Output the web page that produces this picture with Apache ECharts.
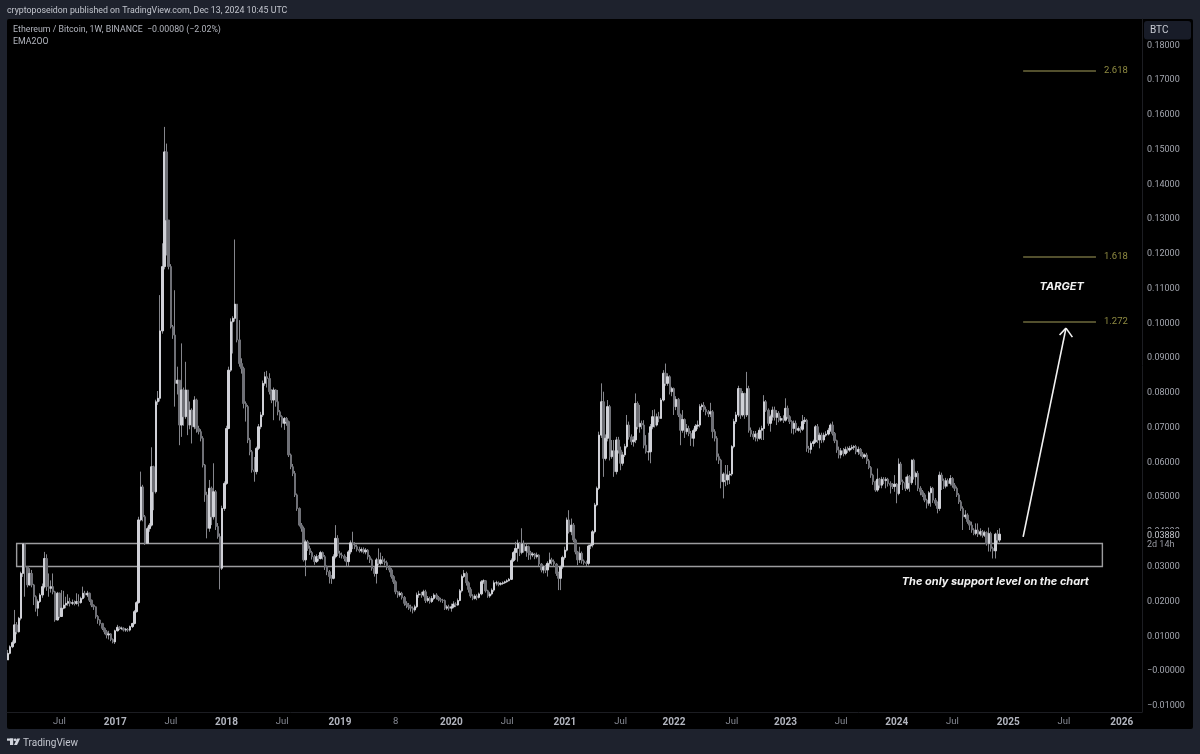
<!DOCTYPE html>
<html>
<head>
<meta charset="utf-8">
<title>ETH/BTC 1W</title>
<script src="https://cdn.jsdelivr.net/npm/echarts@6/dist/echarts.min.js"></script>
<style>
	html, body { margin: 0; padding: 0; background: #1e222d; }
	#panel { position: absolute; left: 7px; top: 19px; width: 1186px; height: 710px; background: #000; border-radius: 2px; }
	#main { position: absolute; left: 0; top: 0; width: 1200px; height: 754px; }
</style>
</head>
<body>
<div id="panel"></div>
<div id="main"></div>
<script>
// weekly candles, prices are in units of 0.0001 BTC
var firstOpen = 26;
var closes = [
	45,64,76,127,107,146,275,360,294,242,
	275,242,208,175,194,213,237,318,237,232,
	237,222,141,218,151,175,184,189,194,189,
	191,189,194,191,203,218,213,218,198,184,
	179,151,141,131,117,107,98,101,85,78,
	110,120,117,117,112,114,112,122,131,165,
	191,429,524,438,362,404,414,582,510,769,
	779,973,1158,1488,1292,1158,985,961,822,831,
	702,803,726,803,702,745,697,774,692,683,
	664,587,501,405,520,438,510,410,381,290,
	462,534,692,860,999,1009,1050,947,879,865,
	764,755,659,625,573,568,635,697,731,822,
	841,836,798,774,803,769,740,726,707,721,
	712,616,582,563,501,462,414,405,314,366,
	347,335,323,309,323,318,335,323,294,280,
	266,261,323,376,333,328,325,318,309,337,
	363,357,352,344,340,344,337,342,323,314,
	290,275,314,304,314,309,306,292,285,266,
	251,222,213,218,206,189,184,179,175,170,
	179,213,216,213,222,197,203,194,203,213,
	206,200,198,197,175,179,175,179,187,184,
	197,225,266,275,248,229,210,203,210,206,
	216,251,254,225,210,216,227,248,248,244,
	246,248,251,254,258,312,335,347,362,335,
	360,340,352,335,328,331,323,328,302,285,
	294,285,304,314,309,302,275,261,294,321,
	342,429,395,414,371,337,314,333,311,306,
	304,354,357,395,472,520,673,769,606,664,
	755,611,628,568,659,630,592,616,640,702,
	668,654,659,764,697,707,702,644,625,625,
	697,726,702,726,721,774,851,822,841,798,
	807,755,776,731,687,718,683,692,678,664,
	686,699,702,755,759,747,740,734,740,683,
	664,611,601,539,561,544,558,561,640,712,
	731,807,731,793,731,807,687,676,668,676,
	664,687,692,769,745,707,726,745,724,736,
	716,721,716,750,726,712,692,707,687,692,
	690,712,716,635,632,649,654,697,659,673,
	659,673,676,687,702,678,657,630,616,628,
	620,632,630,635,638,640,625,632,619,611,
	616,599,580,558,539,515,546,529,546,542,
	546,534,529,525,532,505,590,539,536,520,
	553,536,601,553,563,520,510,501,486,477,
	507,520,486,477,462,558,542,526,542,534,
	548,529,520,501,481,462,438,443,424,414,
	400,390,400,388,395,385,392,361,390,347,
	340,388,371,388
];
var highs = [
	55,68,82,170,135,150,280,362,362,295,
	290,285,245,212,200,218,246,337,330,275,
	255,275,225,222,220,227,225,208,215,205,
	200,197,218,215,208,237,225,225,220,200,
	186,180,155,143,133,120,112,110,103,88,
	113,127,123,122,120,118,118,125,133,170,
	195,438,568,530,443,410,420,638,585,775,
	800,1076,1225,1560,1512,1292,1165,990,1090,870,
	815,937,810,884,760,770,750,785,778,700,
	690,670,590,510,544,525,592,515,420,390,
	470,540,700,870,1009,1015,1236,1035,1004,894,
	870,770,760,665,630,610,640,705,740,830,
	855,858,851,805,810,805,803,745,730,725,
	725,715,620,590,570,505,465,420,410,372,
	371,355,340,328,330,328,340,338,328,298,
	285,270,330,414,385,340,335,330,322,342,
	370,395,365,358,352,350,350,348,345,328,
	318,295,320,347,335,325,318,312,298,290,
	270,255,225,224,222,210,195,190,185,180,
	185,220,225,222,228,228,210,208,210,218,
	218,210,205,202,200,184,185,188,195,192,
	203,230,272,285,280,252,235,215,215,215,
	220,256,258,256,228,222,232,255,254,252,
	250,252,254,258,262,318,340,366,372,365,
	405,370,362,355,340,336,334,335,330,305,
	298,300,310,335,320,315,305,280,298,326,
	352,436,457,433,420,375,340,352,338,315,
	312,358,362,400,478,525,683,822,798,675,
	774,760,659,659,668,668,640,625,648,731,
	712,675,670,793,770,760,715,716,673,680,
	705,745,747,735,740,780,860,879,851,845,
	812,810,785,780,735,745,721,705,700,685,
	692,705,715,762,764,768,755,745,766,745,
	690,670,620,605,566,587,587,570,644,720,
	740,815,798,800,795,855,815,695,685,685,
	680,695,700,788,774,750,732,755,755,745,
	742,728,730,779,758,730,716,715,715,698,
	698,731,725,720,642,655,660,702,705,680,
	680,680,684,694,707,712,682,660,640,636,
	636,640,640,642,645,644,645,640,636,624,
	620,622,604,584,562,542,577,550,553,552,
	552,550,540,535,558,535,606,596,545,553,
	560,558,603,605,568,570,526,515,506,490,
	512,526,524,492,482,568,565,548,550,548,
	558,552,535,525,506,486,468,457,448,428,
	424,405,419,419,405,400,398,396,407,395,
	352,392,400,405
];
var lows = [
	26,42,60,72,100,105,140,265,208,235,
	240,235,184,165,152,190,205,232,225,208,
	220,215,136,140,146,150,172,175,182,180,
	184,183,185,180,188,200,205,207,193,178,
	170,145,130,125,112,100,88,85,80,74,
	72,108,112,112,108,107,107,108,118,128,
	162,188,425,425,357,360,395,410,457,505,
	760,770,965,1150,1190,1150,980,950,755,790,
	644,668,700,720,673,690,649,690,680,675,
	655,580,481,376,395,414,430,400,375,229,
	285,455,530,690,855,908,1000,940,870,850,
	750,712,650,615,565,539,560,630,690,725,
	815,810,790,765,716,755,730,715,695,688,
	700,610,575,555,495,455,410,395,309,267,
	340,328,315,300,305,310,315,315,285,270,
	246,245,258,318,325,320,318,310,296,296,
	330,345,345,338,335,335,332,330,315,305,
	283,266,246,298,298,302,298,285,278,260,
	245,215,205,208,200,182,175,170,165,160,
	165,175,205,205,208,190,192,188,190,198,
	200,195,192,190,170,170,168,165,175,178,
	182,195,220,262,240,220,205,198,200,198,
	203,212,245,220,205,205,212,222,240,238,
	240,242,245,248,252,256,308,314,309,325,
	330,335,323,314,315,322,316,318,295,278,
	275,276,266,295,300,295,268,227,227,288,
	315,338,390,385,365,330,299,305,303,300,
	296,298,345,350,390,468,515,665,553,600,
	655,600,605,553,560,620,572,585,610,635,
	660,645,640,650,690,680,690,635,620,600,
	592,690,695,698,710,721,770,815,815,790,
	785,731,745,725,644,680,665,675,670,642,
	640,682,690,695,745,740,730,725,725,664,
	655,600,590,520,491,526,530,532,555,635,
	705,725,720,726,720,725,680,668,660,655,
	655,660,659,659,740,700,683,715,715,702,
	710,712,708,712,720,705,678,675,680,683,
	680,685,705,625,622,620,640,650,650,635,
	650,652,668,672,682,672,650,622,606,606,
	612,615,622,625,630,630,618,616,612,605,
	606,590,575,550,530,510,510,520,520,532,
	520,525,505,518,510,477,500,530,515,512,
	515,510,530,545,529,512,500,495,480,462,
	470,467,478,470,448,455,515,518,520,525,
	528,522,512,495,475,455,400,432,418,400,
	392,385,385,380,382,378,380,355,338,338,
	318,318,362,365
];

var weekCount = 530;
var tickWeeks = [24,50,76,102,128,155,181,207,233,260,286,311,338,363,389,415,441,467,493,520];
var tickLabels = ['Jul','2017','Jul','2018','Jul','2019','8','2020','Jul','2021','Jul','2022','Jul','2023','Jul','2024','Jul','2025','Jul','2026'];
var priceTicks = [-0.01,0,0.01,0.02,0.03,0.04,0.05,0.06,0.07,0.08,0.09,0.10,0.11,0.12,0.13,0.14,0.15,0.16,0.17,0.18];

var fibNames = ['2.618','1.618','1.272'];
var fibPrices = [0.1721,0.1186,0.0999];
var fibFrom = 474, fibTo = 508;
var zoneTop = 0.0361, zoneBottom = 0.0295, zoneFrom = 4, zoneTo = 511;

var UNIT = 0.0001;

// 周线日期
var weeks = [];
for (var i = 0; i < weekCount; i++) {
	weeks.push(new Date(Date.UTC(2016, 0, 18 + i * 7)).toISOString().slice(0, 10));
}

var wickData = [], bodyData = [];
for (var i = 0; i < closes.length; i++) {
	var o = (i == 0 ? firstOpen : closes[i - 1]) * UNIT;
	var c = closes[i] * UNIT;
	wickData.push([o, c, lows[i] * UNIT, highs[i] * UNIT]);
	bodyData.push([o, c, Math.min(o, c), Math.max(o, c)]);
}

var FONT = 'Roboto, "Liberation Sans", sans-serif';
var fibLines = fibPrices.map(function (p, k) {
	return [
		{coord: [fibFrom, p], label: {formatter: fibNames[k]}},
		{coord: [fibTo, p]}
	];
});
var white = {color: '#f2f2f2', width: 1.6, type: 'solid'};
var arrowLines = [
	[{coord: [474, 0.0380], lineStyle: white, label: {show: false}}, {coord: [494, 0.0981]}],
	[{coord: [491, 0.0961], lineStyle: white, label: {show: false}}, {coord: [494, 0.0981]}],
	[{coord: [497, 0.0955], lineStyle: white, label: {show: false}}, {coord: [494, 0.0981]}]
];

function note(text, x, y, size) {
	return {
		coord: [x, y],
		symbol: 'circle',
		symbolSize: 1,
		itemStyle: {color: 'rgba(0,0,0,0)'},
		label: {show: true, position: 'inside', formatter: text, color: '#f2f2f2', fontFamily: 'Inter', fontStyle: 'italic', fontWeight: 'bold', fontSize: size}
	};
}

var chart = echarts.init(document.getElementById('main'), null, {renderer: 'canvas'});
var option = {
	animation: false,
	backgroundColor: 'transparent',
	grid: {left: 7, right: 58, top: 19, bottom: 42, borderWidth: 0},
	xAxis: {
		type: 'category',
		data: weeks,
		axisLine: {show: true, onZero: false, lineStyle: {color: '#1c1d22'}},
		axisTick: {show: false},
		splitLine: {show: false},
		axisLabel: {
			hideOverlap: false,
			margin: 5,
			interval: function (idx) { return tickWeeks.indexOf(idx) >= 0; },
			formatter: function (val, idx) {
				var t = tickLabels[tickWeeks.indexOf(idx)];
				return t.length == 4 ? '{y|' + t + '}' : '{m|' + t + '}';
			},
			rich: {
				y: {color: '#b2b5be', fontFamily: FONT, fontSize: 10, fontWeight: 'bold'},
				m: {color: '#868993', fontFamily: FONT, fontSize: 9.5}
			}
		}
	},
	yAxis: {
		type: 'value',
		position: 'right',
		min: -0.012374,
		max: 0.18705,
		splitLine: {show: false},
		axisTick: {show: false},
		axisLine: {show: true, lineStyle: {color: '#1c1d22'}},
		axisLabel: {
			customValues: priceTicks,
			margin: 5,
			verticalAlign: 'middle',
			formatter: function (v) {
				return '{p|' + (v <= 0 ? '−' : '') + Math.abs(v).toFixed(5) + '}';
			},
			rich: {
				p: {color: '#a3a6af', fontFamily: FONT, fontSize: 9, padding: [4, 0, 0, 0]}
			}
		}
	},
	series: [{
		name: 'wicks',
		type: 'candlestick',
		barWidth: 1,
		data: wickData,
		z: 2,
		itemStyle: {color: '#85868c', color0: '#85868c', borderColor: '#85868c', borderColor0: '#85868c', borderWidth: 1}
	}, {
		name: 'bodies',
		type: 'candlestick',
		barWidth: 2,
		data: bodyData,
		z: 3,
		itemStyle: {color: '#d0d1d7', color0: '#6f7076', borderColor: '#d0d1d7', borderColor0: '#6f7076', borderWidth: 1},
		markArea: {
			silent: true,
			itemStyle: {color: 'rgba(0,0,0,0)', borderColor: '#9c9c9e', borderWidth: 1.4},
			data: [[{coord: [zoneFrom, zoneTop]}, {coord: [zoneTo, zoneBottom]}]]
		},
		markLine: {
			silent: true,
			symbol: 'none',
			lineStyle: {color: '#6e6a3c', width: 1.6, type: 'solid'},
			label: {show: true, position: 'end', distance: 8, color: '#8f8b42', fontFamily: FONT, fontSize: 9.5},
			data: fibLines.concat(arrowLines)
		},
		markPoint: {
			silent: true,
			data: [
				note('TARGET', 492, 0.1100, 11),
				note('The only support level on the chart', 461, 0.0251, 11)
			]
		}
	}],
	graphic: [
		{type: 'text', left: 7, top: 6.5, style: {text: 'cryptoposeidon published on TradingView.com, Dec 13, 2024 10:45 UTC', fill: '#c3c6ce', font: '8.8px ' + FONT}},
		{type: 'text', left: 13, top: 25, z: 20, style: {text: 'Ethereum / Bitcoin, 1W, BINANCE  −0.00080 (−2.02%)', fill: '#b2b5be', font: '8.8px ' + FONT}},
		{type: 'text', left: 13, top: 37, z: 20, style: {text: 'EMA2OO', fill: '#b2b5be', font: '8.8px ' + FONT}},
		{type: 'rect', shape: {x: 1144, y: 21, width: 47, height: 18.5, r: 3}, z: 20, style: {fill: '#181c28'}},
		{type: 'text', left: 1150, top: 25, z: 21, style: {text: 'BTC', fill: '#c9ccd4', font: '10px ' + FONT}},
		{type: 'rect', shape: {x: 1143, y: 529, width: 49, height: 21}, z: 20, style: {fill: '#000'}},
		{type: 'text', left: 1147, top: 531, z: 21, style: {text: '0.03880', fill: '#c4c6cc', font: '9px ' + FONT}},
		{type: 'text', left: 1147, top: 540.5, z: 21, style: {text: '2d 14h', fill: '#9a9ca4', font: '9px ' + FONT}},
		// logo
		{type: 'rect', shape: {x: 7, y: 738.5, width: 6.2, height: 2.2}, style: {fill: '#d1d4dc'}},
		{type: 'rect', shape: {x: 10, y: 738.5, width: 3.2, height: 6.5}, style: {fill: '#d1d4dc'}},
		{type: 'circle', shape: {cx: 15.2, cy: 739.8, r: 1.4}, style: {fill: '#d1d4dc'}},
		{type: 'polygon', shape: {points: [[14, 745], [17.2, 738.5], [20.2, 738.5], [17, 745]]}, style: {fill: '#d1d4dc'}},
		{type: 'text', left: 23, top: 738, style: {text: 'TradingView', fill: '#c3c6ce', font: '10px ' + FONT}}
	]
};
chart.setOption(option);
</script>
</body>
</html>
